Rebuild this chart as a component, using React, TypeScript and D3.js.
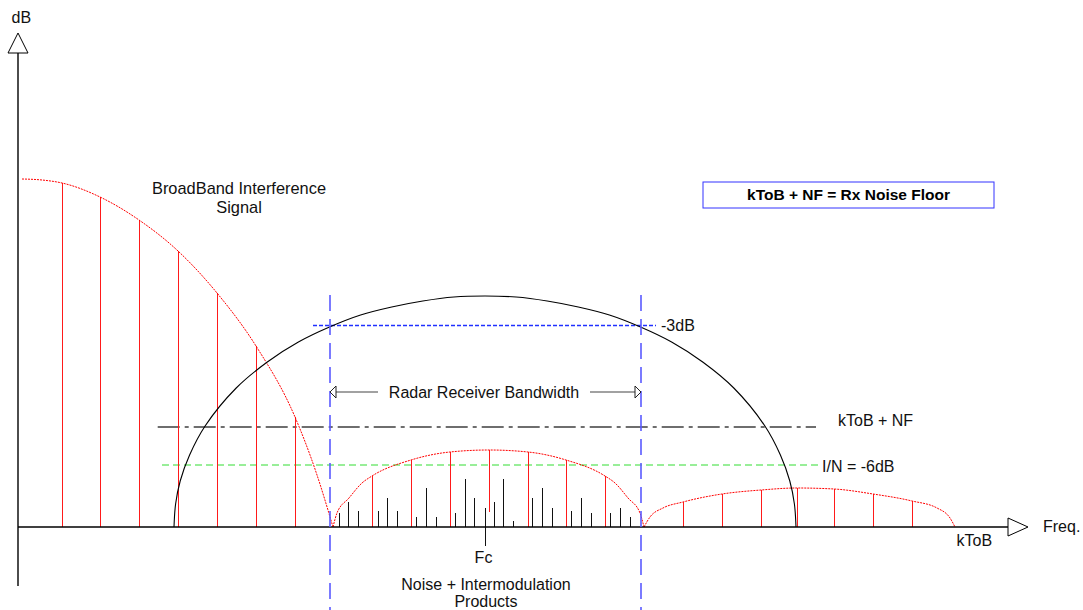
import React from 'react';
import * as d3 from 'd3';

const W = 1083;
const H = 610;

// Frequency / level units (arbitrary): frequency 0..99, level 0..50 (kToB = 0)
const FREQ_DOMAIN: [number, number] = [0, 99];
const LEVEL_DOMAIN: [number, number] = [0, 50];

// Broadband interference: main lobe envelope [freq, level]
const mainLobeEnvelope: [number, number][] = [
  [0.4, 34.8], [2.4, 34.7], [4.4, 34.4], [8.2, 33.0], [12.1, 30.7], [16.0, 27.6],
  [19.9, 23.4], [23.8, 18.1], [27.7, 11.0], [29.9, 5.2], [31.5, 0],
];
const mainLobeLineFreqs = [4.4, 8.2, 12.1, 16.0, 19.9, 23.8, 27.7];
const mainLobeLineLevels = [34.4, 33.0, 30.7, 27.6, 23.4, 18.1, 11.0];

// Second lobe
const secondLobeEnvelope: [number, number][] = [
  [31.5, 0], [31.9, 1.4], [33.1, 2.9], [34.4, 4.4], [35.4, 5.1], [39.3, 6.7], [43.2, 7.5],
  [47.1, 7.7], [51.0, 7.5], [54.8, 6.7], [58.7, 5.1], [59.7, 4.4], [61.0, 2.9], [62.2, 1.4], [62.6, 0],
];
const secondLobeLineFreqs = [35.4, 39.3, 43.2, 47.1, 51.0, 54.8, 58.7];
const secondLobeLineLevels = [5.1, 6.7, 7.5, 7.7, 7.5, 6.7, 5.1];
const secondLobeLineBottoms = [0, 0, 0, 1.5, 0, 0, 0];

// Third lobe
const thirdLobeEnvelope: [number, number][] = [
  [62.6, 0], [63.2, 1.0], [64.5, 1.9], [66.5, 2.5], [70.4, 3.3], [74.3, 3.7], [77.9, 3.9],
  [81.6, 3.8], [85.5, 3.3], [89.4, 2.6], [91.9, 1.9], [93.2, 0.9], [93.7, 0],
];
const thirdLobeLineFreqs = [66.5, 70.4, 74.3, 77.9, 81.6, 85.5, 89.4];
const thirdLobeLineLevels = [2.5, 3.3, 3.7, 3.9, 3.8, 3.3, 2.6];

// Radar receiver response
const receiverFreqs = [
  15.6, 15.76, 16.22, 17.16, 18.71, 21.82, 24.93, 28.04, 31.15, 34.26, 37.37, 40.48, 43.59, 46.7,
  49.81, 52.92, 56.03, 59.14, 62.25, 65.36, 68.47, 71.58, 74.69, 76.24, 77.18, 77.64, 77.8,
];
const receiverLevels = [
  0, 2.3, 4.6, 7.2, 10.1, 13.9, 16.5, 18.5, 20.0, 21.2, 22.0, 22.6, 23.0, 23.1,
  23.0, 22.6, 22.0, 21.2, 20.0, 18.5, 16.5, 13.9, 10.1, 7.2, 4.6, 2.3, 0,
];

// Noise + intermodulation products
const noiseFreqs = [
  32.1, 33.0, 34.0, 36.0, 36.9, 37.9, 39.8, 40.8, 41.8, 43.7, 44.7, 45.6, 46.7,
  47.6, 48.5, 49.5, 51.4, 52.4, 53.4, 55.3, 56.3, 57.3, 59.2, 60.2, 61.2,
];
const noiseLevels = [
  1.4, 2.5, 1.6, 1.6, 2.9, 1.6, 1.0, 3.9, 1.0, 1.4, 4.8, 2.9, 1.9,
  2.5, 4.8, 0.6, 2.9, 3.9, 1.9, 1.6, 2.9, 1.4, 1.4, 1.9, 1.0,
];

// Reference levels / frequencies
const level3dB = 20.15;
const levelKToBNF = 10.0;
const levelIN = 6.2;
const bandEdges = [31.2, 62.3];
const fcFreq = 46.7;

const FONT = "Arial, 'Liberation Sans', sans-serif";

export default function App() {
  const x = d3.scaleLinear().domain(FREQ_DOMAIN).range([18, 1008]);
  const y = d3.scaleLinear().domain(LEVEL_DOMAIN).range([527, 27]);
  const px = (f: number) => Math.round(x(f)) + 0.5;

  const env = d3
    .line<[number, number]>()
    .x((d) => x(d[0]))
    .y((d) => y(d[1]))
    .curve(d3.curveMonotoneX);

  const receiver: [number, number][] = receiverFreqs.map((f, i) => [f, receiverLevels[i]]);
  const recvLine = d3
    .line<[number, number]>()
    .x((d) => x(d[0]))
    .y((d) => y(d[1]))
    .curve(d3.curveCatmullRom.alpha(0.5));

  const y0 = y(0);
  const arrowY = y(13.5);
  const bwL = x(bandEdges[0]);
  const bwR = x(bandEdges[1]);

  const redLines = (freqs: number[], tops: number[], bottoms?: number[]) =>
    freqs.map((f, i) => (
      <line
        key={`r${f}`}
        x1={px(f)}
        x2={px(f)}
        y1={y(bottoms ? bottoms[i] : 0)}
        y2={y(tops[i])}
        stroke="#ff1a1a"
        strokeWidth={1}
      />
    ));

  return (
    <div style={{ position: 'absolute', left: 0, top: 0, width: W, height: H, background: '#fff' }}>
      <svg width={W} height={H} style={{ display: 'block' }} fontFamily={FONT}>
        <rect x={0} y={0} width={W} height={H} fill="#fff" />

        {/* reference horizontal lines */}
        <line x1={x(13.97)} x2={x(79.8)} y1={y(levelKToBNF)} y2={y(levelKToBNF)} stroke="#6e6e6e" strokeWidth={2} strokeDasharray="22,5,4,5" />
        <line x1={x(14.4)} x2={x(80.4)} y1={y(levelIN)} y2={y(levelIN)} stroke="#33dd33" strokeWidth={1} strokeDasharray="7,4" />
        <line x1={x(29.5)} x2={x(63.8)} y1={y(level3dB)} y2={y(level3dB)} stroke="#2030ff" strokeWidth={1.5} strokeDasharray="4,2" />

        {/* interference vertical lines */}
        {redLines(mainLobeLineFreqs, mainLobeLineLevels)}
        {redLines(secondLobeLineFreqs, secondLobeLineLevels, secondLobeLineBottoms)}
        {redLines(thirdLobeLineFreqs, thirdLobeLineLevels)}

        {/* noise spikes */}
        {noiseFreqs.map((f, i) => (
          <line key={`n${i}`} x1={px(f)} x2={px(f)} y1={y0} y2={y(noiseLevels[i])} stroke="#111" strokeWidth={1} />
        ))}
        {/* Fc tick */}
        <line x1={px(fcFreq)} x2={px(fcFreq)} y1={y0} y2={y(-1.9)} stroke="#111" strokeWidth={1} />

        {/* envelopes */}
        {[mainLobeEnvelope, secondLobeEnvelope, thirdLobeEnvelope].map((d, i) => (
          <path key={`e${i}`} d={env(d) || ''} fill="none" stroke="#ff0000" strokeWidth={1} strokeDasharray="2,1" />
        ))}

        {/* receiver response */}
        <path d={recvLine(receiver) || ''} fill="none" stroke="#000" strokeWidth={1.1} />

        {/* axes */}
        <line x1={18} x2={1008} y1={y0} y2={y0} stroke="#000" strokeWidth={1.3} />
        <line x1={18} x2={18} y1={53} y2={586} stroke="#000" strokeWidth={1.4} />
        <path d="M18,33 L28,53 L8,53 Z" fill="#fff" stroke="#000" strokeWidth={1} />
        <path d={`M1028,${y0} L1008,${y0 - 9} L1008,${y0 + 9} Z`} fill="#fff" stroke="#000" strokeWidth={1} />

        {/* bandwidth edges */}
        {bandEdges.map((f) => (
          <line key={`b${f}`} x1={x(f)} x2={x(f)} y1={y(23.2)} y2={y(-8.5)} stroke="#5a5aff" strokeWidth={1.6} strokeDasharray="16,8" />
        ))}

        {/* bandwidth arrow */}
        <line x1={bwL + 6} x2={378} y1={arrowY} y2={arrowY} stroke="#444" strokeWidth={1.2} />
        <line x1={590} x2={bwR - 6} y1={arrowY} y2={arrowY} stroke="#444" strokeWidth={1.2} />
        <path d={`M${bwL},${arrowY} L${bwL + 6},${arrowY - 6} L${bwL + 6},${arrowY + 6} Z`} fill="#fff" stroke="#222" strokeWidth={1} />
        <path d={`M${bwR},${arrowY} L${bwR - 6},${arrowY - 6} L${bwR - 6},${arrowY + 6} Z`} fill="#fff" stroke="#222" strokeWidth={1} />
        <text x={484} y={arrowY + 5.5} textAnchor="middle" fontSize={16} fill="#111">Radar Receiver Bandwidth</text>

        {/* legend box */}
        <rect x={703} y={182} width={291} height={26} fill="#fff" stroke="#3333ff" strokeWidth={1} />
        <text x={848.5} y={200} textAnchor="middle" fontSize={15.5} fontWeight="bold" fill="#000">kToB + NF = Rx Noise Floor</text>

        {/* labels */}
        <text x={11.5} y={23} fontSize={16} fill="#111">dB</text>
        <text x={239} y={194} textAnchor="middle" fontSize={16.4} fill="#111">BroadBand Interference</text>
        <text x={239} y={213} textAnchor="middle" fontSize={16.4} fill="#111">Signal</text>
        <text x={661} y={330.5} fontSize={16} fill="#111">-3dB</text>
        <text x={838} y={426} fontSize={16} fill="#111">kToB + NF</text>
        <text x={822} y={471.5} fontSize={16} fill="#111">I/N = -6dB</text>
        <text x={483.5} y={563} textAnchor="middle" fontSize={16} fill="#111">Fc</text>
        <text x={486} y={590} textAnchor="middle" fontSize={16} fill="#111">Noise + Intermodulation</text>
        <text x={486} y={607} textAnchor="middle" fontSize={16} fill="#111">Products</text>
        <text x={956.5} y={546} fontSize={16} fill="#111">kToB</text>
        <text x={1043} y={532} fontSize={16} fill="#111">Freq.</text>
      </svg>
    </div>
  );
}
